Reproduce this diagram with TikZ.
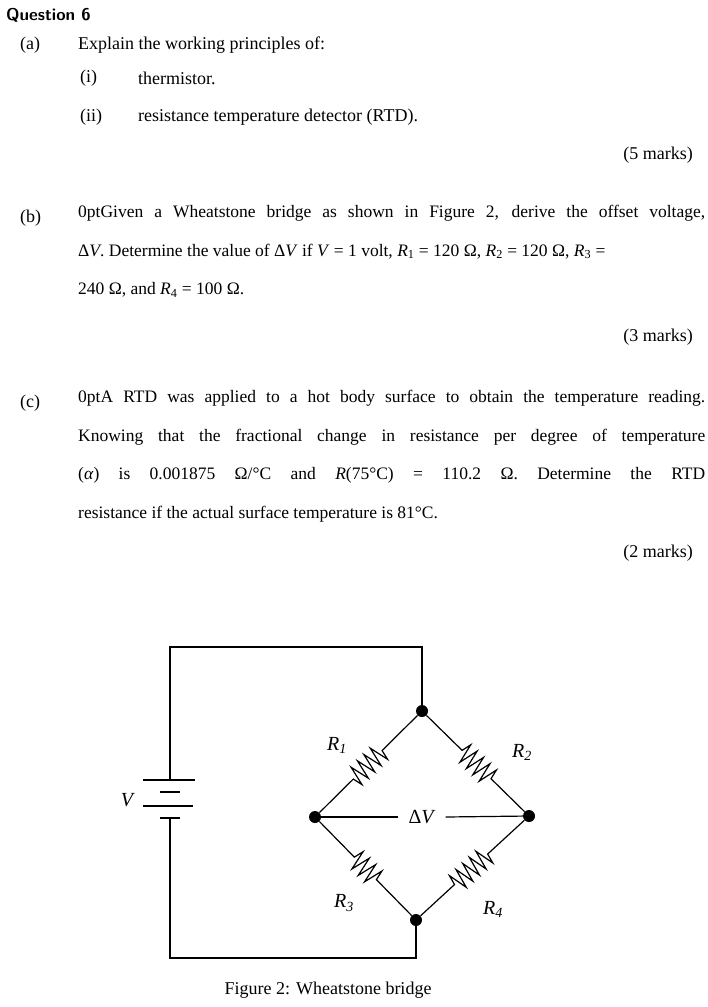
\documentclass[tikz,border=0pt]{standalone}
\usepackage{fontspec}
\setmainfont{Liberation Serif}
\usetikzlibrary{decorations.pathmorphing}
\begin{document}
\begin{tikzpicture}[x=1pt,y=-1pt,
  txt/.style={anchor=west,inner sep=0pt,font=\fontsize{18}{22}\selectfont},
  rtxt/.style={anchor=east,inner sep=0pt,font=\fontsize{18}{22}\selectfont},
  par/.style={anchor=north west,inner sep=0pt,font=\fontsize{17.5}{38.5}\selectfont\hyphenpenalty=10000\emergencystretch=30pt,text width=627pt,align=justify},
  wire/.style={line width=1.2pt},
  res/.style={wire,decorate,decoration={zigzag,segment length=9pt,amplitude=10pt,pre length=50pt,post length=46pt}},
  jn/.style={circle,fill=black,inner sep=0pt,minimum size=12pt},
  lab/.style={inner sep=0pt,font=\itshape\fontsize{20}{22}\selectfont}]
\useasboundingbox (0,0) rectangle (708,1007);
\node[txt,font=\sffamily\bfseries\fontsize{17}{20}\selectfont] (q) at (6,15) {Question 6};
\node[txt] (a) at (20,45) {(a)};
\node[txt] (at) at (78,45) {Explain the working principles of:};
\node[txt] (ai) at (80,78) {(i)};
\node[txt] (ait) at (138,78) {thermistor.};
\node[txt] (aii) at (80,117) {(ii)};
\node[txt] (aiit) at (138,117) {resistance temperature detector (RTD).};
\node[rtxt] (am) at (693,155) {(5 marks)};
\node[txt] (b) at (20,218) {(b)};
\node[par] (bt) at (78,205) {Given a Wheatstone bridge as shown in Figure 2, derive the offset voltage,\linebreak Δ\textit{V}. Determine the value of Δ\textit{V} if \textit{V} = 1 volt, \textit{R}\textsubscript{1} = 120 Ω, \textit{R}\textsubscript{2} = 120 Ω, \textit{R}\textsubscript{3} =\\ 240 Ω, and \textit{R}\textsubscript{4} = 100 Ω.};
\node[rtxt] (bm) at (693,337) {(3 marks)};
\node[txt] (c) at (20,403) {(c)};
\node[par] (ct) at (78,390) {A RTD was applied to a hot body surface to obtain the temperature reading.\linebreak Knowing that the fractional change in resistance per degree of temperature\linebreak (\textit{α}) is 0.001875 Ω/°C and \textit{R}(75°C) = 110.2 Ω. Determine the RTD\linebreak resistance if the actual surface temperature is 81°C.};
\node[rtxt] (cm) at (693,553) {(2 marks)};
% circuit
\node[jn] (T) at (422,711) {};
\node[jn] (L) at (315,817) {};
\node[jn] (R) at (529,816) {};
\node[jn] (B) at (416,920) {};
\coordinate (tl) at (170,647);
\coordinate (bl) at (170,958);
\coordinate (b1) at (170,780);
\coordinate (b2) at (170,818);
\draw[wire] (b1) -- (tl) -- (tl -| T) -- (T);
\draw[wire] (b2) -- (bl) -- (bl -| B) -- (B);
\draw[wire] (143,780) -- (195,780);
\draw[wire] (160,792) -- (180,792);
\draw[wire] (143,806) -- (193,806);
\draw[wire] (160,818) -- (180,818);
\node[lab] (V) at (127,800) {V};
\draw[res] (T) -- (L);
\draw[res] (T) -- (R);
\draw[res] (L) -- (B);
\draw[res] (R) -- (B);
\node[lab,inner xsep=10pt,font=\fontsize{20}{22}\selectfont] (dV) at (422,817) {Δ\textit{V}};
\draw[wire] (L) -- (dV.west);
\draw[wire] (dV.east) -- (R);
\node[lab] (R1) at (337,745) {R\textsubscript{1}};
\node[lab] (R2) at (522,752) {R\textsubscript{2}};
\node[lab] (R3) at (344,903) {R\textsubscript{3}};
\node[lab] (R4) at (493,909) {R\textsubscript{4}};
\node[inner sep=0pt,font=\fontsize{18}{22}\selectfont] (cap) at (328,990) {Figure 2: Wheatstone bridge};
\end{tikzpicture}
\end{document}
